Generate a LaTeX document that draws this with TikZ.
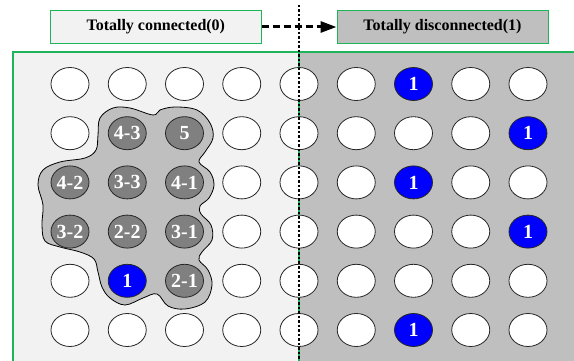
\documentclass[tikz,border=0pt]{standalone}
\usepackage{fontspec}
\setmainfont{Liberation Serif}
\usetikzlibrary{arrows.meta,shapes.geometric}
\definecolor{frgreen}{RGB}{30,180,90}
\definecolor{lightbg}{RGB}{242,242,242}
\definecolor{darkbg}{RGB}{191,191,191}
\definecolor{cellgray}{RGB}{128,128,128}
\tikzset{
  cellbase/.style={ellipse, draw=black!85, line width=0.8pt, minimum width=38pt,
    minimum height=33pt, inner sep=0pt, text=white,
    font=\fontsize{20}{20}\selectfont\bfseries},
  cellw/.style={cellbase, fill=white},
  cellg/.style={cellbase, fill=cellgray},
  cellb/.style={cellbase, fill=blue},
  topbox/.style={draw=frgreen, line width=1pt, minimum height=32.5pt,
    inner sep=0pt, font=\fontsize{16}{16}\selectfont\bfseries},
  blobstyle/.style={fill=darkbg, draw=black, line width=0.8pt},
  dasharrow/.style={line width=3pt, dash pattern=on 7pt off 4pt,
    -{Triangle[length=16pt,width=11pt]}},
  vline/.style={line width=2pt, dash pattern=on 2.5pt off 2pt},
  frameline/.style={draw=frgreen, line width=1.2pt}
}
\begin{document}
\begin{tikzpicture}[x=1pt,y=-1pt]
\useasboundingbox (0,0) rectangle (574,361);
% background panels
\fill[lightbg] (13,52) rectangle (299,361);
\fill[darkbg] (299,52) rectangle (574,361);
\draw[frameline] (13,361) -- (13,52) -- (574,52);
\draw[frameline] (299,52) -- (299,361);
% blob
\draw[blobstyle] plot[smooth cycle, tension=0.6] coordinates {
 (100,118) (113,108) (130,108) (153,115) (160,110) (175,107) (197,110)
 (210,123) (213,138) (205,152) (199,162) (210,172) (214,185) (209,198)
 (200,206) (201,214) (211,225) (212,240) (202,252) (199,260) (208,270)
 (212,285) (205,302) (185,309) (168,306) (157,294) (143,298) (125,305)
 (110,298) (102,287) (98,272) (94,259) (80,252) (60,247) (45,241)
 (42,225) (43,205) (38,185) (43,170) (60,162) (85,158) (96,150) (98,135)};
% cells
\foreach \r/\lst in {
 1/{w/,w/,w/,w/,w/,w/,b/1,w/,w/},
 2/{w/,g/4-3,g/5,w/,w/,w/,w/,w/,b/1},
 3/{g/4-2,g/3-3,g/4-1,w/,w/,w/,b/1,w/,w/},
 4/{g/3-2,g/2-2,g/3-1,w/,w/,w/,w/,w/,b/1},
 5/{w/,b/1,g/2-1,w/,w/,w/,w/,w/,w/},
 6/{w/,w/,w/,w/,w/,w/,b/1,w/,w/}}{
  \foreach \s/\t [count=\c] in \lst {
    \node[cell\s] (n\c-\r) at ({70+57.25*(\c-1)},{84+49.2*(\r-1)}) {\t};
  }
}
% top boxes
\node[topbox, fill=lightbg, minimum width=210.5pt] (lbox) at (155.8,27) {Totally connected(0)};
\node[topbox, fill=darkbg, minimum width=211pt] (rbox) at (442.5,27) {Totally disconnected(1)};
\draw[dasharrow] (lbox.east) -- (rbox.west);
% dotted divider
\coordinate (vtop) at (299,5);
\coordinate (vbot) at (299,361);
\draw[vline] (vtop) -- (vbot);
\end{tikzpicture}
\end{document}
